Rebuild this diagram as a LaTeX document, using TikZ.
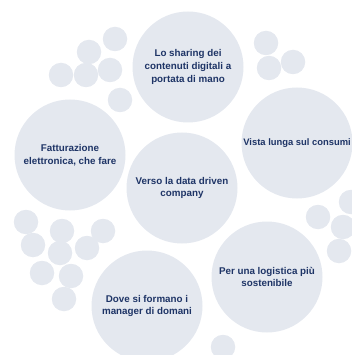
\documentclass[tikz,border=0pt]{standalone}
\usepackage{fontspec}
\setmainfont{Liberation Sans}
\definecolor{bubble}{HTML}{E4E8EF}
\definecolor{navy}{HTML}{1E3466}
\begin{document}
\begin{tikzpicture}[x=1pt,y=-1pt,
  txt/.style={text=navy,font=\fontsize{9.8}{12.8}\selectfont\bfseries,align=center},
  big/.style={circle,fill=bubble,minimum size=111pt,inner sep=0pt,txt},
  small/.style={circle,fill=bubble,minimum size=24.5pt,inner sep=0pt}]
\useasboundingbox (0,0) rectangle (352,355);
\clip (0,0) rectangle (352,355);
% small bubbles
\foreach \n/\x/\y in {a/115/39,b/89/52,c/61/75,d/86/75,e/110/70,f/120/100,
  g/266/43,h/269/68,i/293/62,
  j/26/222,k/62/231,l/103/231,m/33/245,n/60/253,o/87/248,p/42/273,q/71/276,r/64/299,
  s/351/202,t/318/217,u/343/227,v/339/251,w/223/347}
  \node[small] (s\n) at (\x,\y) {};
% big bubbles
\node[big] (share) at (188,67) {Lo sharing dei\\contenuti digitali a\\portata di mano};
\node[big] (fatt) at (70,155) {Fatturazione\\elettronica, che fare};
\node[big] (vista) at (297,143) {};
\node[txt,inner sep=0pt,anchor=east,font=\fontsize{9.4}{12.8}\selectfont\bfseries] (vistat) at (351,143) {Vista lunga sul consumi};
\node[big] (data) at (182,188) {Verso la data driven\\company};
\node[big] (logi) at (267,277) {Per una logistica più\\sostenibile};
\node[big] (dove) at (147,306) {Dove si formano i\\manager di domani};
\end{tikzpicture}
\end{document}
